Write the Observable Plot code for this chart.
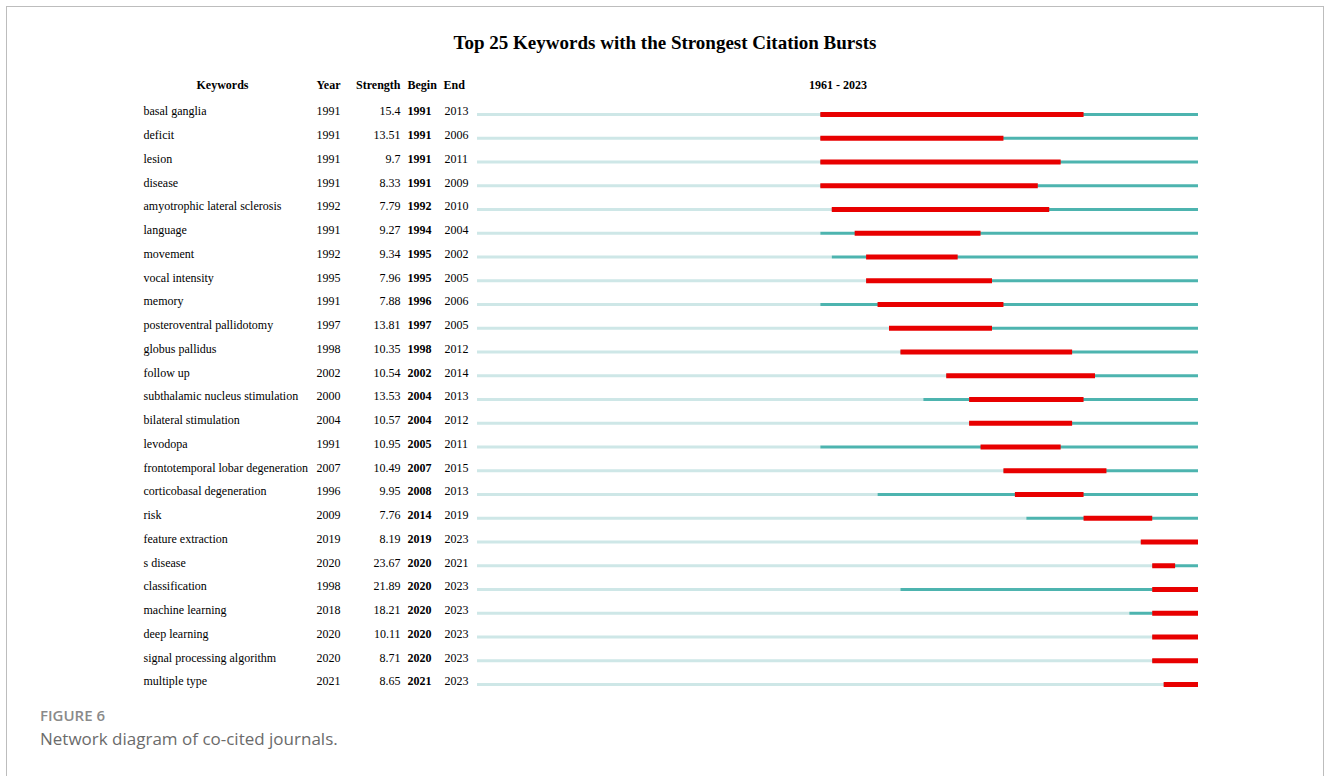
<!DOCTYPE html>
<html><head><meta charset="utf-8">
<script src="https://cdn.jsdelivr.net/npm/d3@7"></script>
<script src="https://cdn.jsdelivr.net/npm/@observablehq/plot@0.6"></script>
<style>
html,body{margin:0;padding:0;background:#fff;width:1330px;height:776px;overflow:hidden}
#frame{position:absolute;left:6px;top:6px;width:1318px;height:820px;border:1px solid #bdbdbd;box-sizing:border-box}
#title{position:absolute;left:0;width:1330px;top:31px;text-align:center;font:bold 19px "Liberation Serif";line-height:24px;color:#000}
#chart{position:absolute;left:0;top:60px}
#fig{position:absolute;left:40px;top:705px;font:600 15px "Open Sans";line-height:20px;color:#8a8a8a}
#cap{position:absolute;left:40px;top:727px;font:17px "Open Sans";line-height:24px;color:#6b6b6b}
</style></head>
<body>
<div id="frame"></div>
<div id="title">Top 25 Keywords with the Strongest Citation Bursts</div>
<div id="chart"></div>
<div id="fig">FIGURE 6</div>
<div id="cap">Network diagram of co-cited journals.</div>
<script>
const keywords = ["basal ganglia","deficit","lesion","disease","amyotrophic lateral sclerosis","language","movement","vocal intensity","memory","posteroventral pallidotomy","globus pallidus","follow up","subthalamic nucleus stimulation","bilateral stimulation","levodopa","frontotemporal lobar degeneration","corticobasal degeneration","risk","feature extraction","s disease","classification","machine learning","deep learning","signal processing algorithm","multiple type"];
const years = [1991,1991,1991,1991,1992,1991,1992,1995,1991,1997,1998,2002,2000,2004,1991,2007,1996,2009,2019,2020,1998,2018,2020,2020,2021];
const strengths = ["15.4","13.51","9.7","8.33","7.79","9.27","9.34","7.96","7.88","13.81","10.35","10.54","13.53","10.57","10.95","10.49","9.95","7.76","8.19","23.67","21.89","18.21","10.11","8.71","8.65"];
const begins = [1991,1991,1991,1991,1992,1994,1995,1995,1996,1997,1998,2002,2004,2004,2005,2007,2008,2014,2019,2020,2020,2020,2020,2020,2021];
const ends = [2013,2006,2011,2009,2010,2004,2002,2005,2006,2005,2012,2014,2013,2012,2011,2015,2013,2019,2023,2021,2023,2023,2023,2023,2023];
const startYear = 1961, endYear = 2023;
const headers = [
  {label:"Keywords", x:222, anchor:"middle"},
  {label:"Year", x:316, anchor:"start"},
  {label:"Strength", x:400, anchor:"end"},
  {label:"Begin", x:407, anchor:"start"},
  {label:"End", x:443, anchor:"start"}
];

const rows = keywords.map((k,i)=>({k, year:years[i], strength:strengths[i], begin:begins[i], end:ends[i], endNext:ends[i]+1}));

const light = "#cee7e7", teal = "#4db4af", red = "#e80000";
const textY = -3;

const marks = [
  Plot.ruleY(rows, {y:"k", x1:()=>startYear, x2:"year", stroke:light, strokeWidth:3}),
  Plot.ruleY(rows, {y:"k", x1:"year", x2:()=>endYear+1, stroke:teal, strokeWidth:3}),
  Plot.ruleY(rows, {y:"k", x1:"begin", x2:"endNext", stroke:red, strokeWidth:5}),
  Plot.text(rows, {y:"k", text:"k", frameAnchor:"left", dx:143, dy:textY, textAnchor:"start"}),
  Plot.text(rows, {y:"k", text:d=>String(d.year), frameAnchor:"left", dx:316, dy:textY, textAnchor:"start"}),
  Plot.text(rows, {y:"k", text:"strength", frameAnchor:"left", dx:400, dy:textY, textAnchor:"end"}),
  Plot.text(rows, {y:"k", text:d=>String(d.begin), frameAnchor:"left", dx:407, dy:textY, textAnchor:"start", fontWeight:"bold"}),
  Plot.text(rows, {y:"k", text:d=>String(d.end), frameAnchor:"left", dx:444, dy:textY, textAnchor:"start"}),
  ...headers.map(h => Plot.text([h.label], {text:d=>d, frameAnchor:"top-left", lineAnchor:"middle", dx:h.x, dy:25, textAnchor:h.anchor, fontWeight:"bold"})),
  Plot.text([`${startYear} - ${endYear}`], {text:d=>d, x:()=> (startYear + endYear + 1)/2, frameAnchor:"top", lineAnchor:"middle", dy:25, fontWeight:"bold"})
];

const chart = Plot.plot({
  width: 1330,
  height: 640,
  marginLeft: 0, marginRight: 0, marginTop: 0, marginBottom: 0,
  x: {domain:[startYear, endYear+1], range:[477, 1198], axis:null},
  y: {type:"point", domain:keywords, range:[54, 624], padding:0, round:false, axis:null},
  style: {fontFamily:"'Liberation Serif', serif", fontSize:"12px", color:"#000", background:"transparent", overflow:"visible"},
  marks
});
document.getElementById("chart").appendChild(chart);
</script>
</body></html>
